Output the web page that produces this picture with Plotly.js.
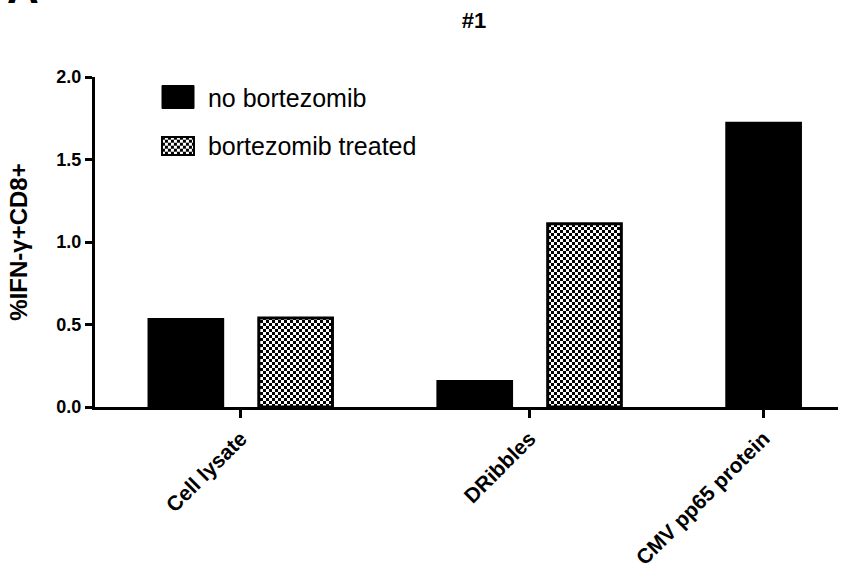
<!DOCTYPE html>
<html><head><meta charset="utf-8">
<script src="https://cdn.plot.ly/plotly-3.0.1.min.js"></script>
<style>html,body{margin:0;padding:0;background:#fff}#chart{width:843px;height:568px}</style>
</head><body><div id="chart"></div>
<script>
const categories = ['Cell lysate', 'DRibbles', 'CMV pp65 protein'];
const seriesNames = ['no bortezomib', 'bortezomib treated'];
const noBortezomib = [0.53, 0.155, 1.72];
const bortezomibTreated = [0.54, 1.11, null];
const yTickVals = [0, 0.5, 1.0, 1.5, 2.0];
const yTickText = ['0.0', '0.5', '1.0', '1.5', '2.0'];

const FONT = 'Liberation Sans, Arial, sans-serif';
const barWidth = 0.255;
const offsets = [-0.315, 0.065];
const idx = categories.map((_, i) => i);
const series = [noBortezomib, bortezomibTreated];

const tickPos = idx.map(i => {
  const c = series.map((s, k) => s[i] == null ? null : i + offsets[k] + barWidth / 2).filter(v => v != null);
  return c.reduce((a, b) => a + b, 0) / c.length;
});

const data = [
  {type: 'bar', name: seriesNames[0], x: idx, y: noBortezomib, width: barWidth, offset: offsets[0],
   marker: {color: '#000', line: {color: '#000', width: 3}}, legend: 'legend', hoverinfo: 'skip'},
  {type: 'bar', name: seriesNames[1], x: idx, y: bortezomibTreated, width: barWidth, offset: offsets[1],
   marker: {color: '#fff', line: {color: '#000', width: 3},
            pattern: {shape: '+', fgcolor: '#000', bgcolor: '#fff', size: 6, solidity: 0.5}},
   legend: 'legend2', hoverinfo: 'skip'}
];

const tickFont = {family: FONT, size: 18, color: '#000', weight: 'bold'};
const xTickFont = {family: FONT, size: 21, color: '#000', weight: 'bold'};
const legendBase = {xanchor: 'left', yanchor: 'middle', bgcolor: 'rgba(0,0,0,0)', itemwidth: 40,
                    font: {family: FONT, size: 25, color: '#000'}};
const layout = {
  width: 843, height: 568,
  margin: {l: 95, r: 5, t: 77, b: 161},
  paper_bgcolor: '#fff', plot_bgcolor: '#fff',
  barmode: 'overlay',
  showlegend: true,
  title: {text: '#1', x: 474 / 843, xanchor: 'center', xref: 'container', y: 1 - 20 / 568, yanchor: 'middle',
          font: {family: FONT, size: 22, color: '#000', weight: 'bold'}},
  xaxis: {range: [-0.502, 2.07], tickvals: tickPos, ticktext: categories, tickangle: -45,
          ticks: 'outside', ticklen: 8, tickwidth: 3, tickcolor: '#000',
          showline: true, linewidth: 3, linecolor: '#000', showgrid: false, zeroline: false,
          tickfont: xTickFont, fixedrange: true},
  yaxis: {range: [0, 2], tickvals: yTickVals, ticktext: yTickText,
          ticks: 'outside', ticklen: 7, tickwidth: 3, tickcolor: '#000',
          showline: true, linewidth: 3, linecolor: '#000', showgrid: false, zeroline: false,
          tickfont: tickFont, fixedrange: true,
          title: {text: '%IFN-γ+CD8+', standoff: 22, font: {family: FONT, size: 24, color: '#000', weight: 'bold'}}},
  legend: Object.assign({x: 0.0847, y: 0.939}, legendBase),
  legend2: Object.assign({x: 0.0847, y: 0.791}, legendBase),
  annotations: [{text: 'A', xref: 'paper', yref: 'paper', x: -0.097, y: 1.19, xanchor: 'center', yanchor: 'bottom',
                 showarrow: false, font: {family: FONT, size: 44, color: '#000', weight: 'bold'}}]
};

const gd = document.getElementById('chart');
function restyleDom() {
  const NS = 'http://www.w3.org/2000/svg';
  gd.querySelectorAll('pattern').forEach(p => {
    if (p.getAttribute('data-checker')) return;
    const s = 6;
    p.setAttribute('data-checker', '1');
    p.setAttribute('width', s); p.setAttribute('height', s);
    p.removeAttribute('patternTransform');
    while (p.firstChild) p.removeChild(p.firstChild);
    [[0, 0, s, s, '#fff'], [0, 0, s / 2, s / 2, '#000'], [s / 2, s / 2, s / 2, s / 2, '#000']].forEach(([x, y, w, h, c]) => {
      const r = document.createElementNS(NS, 'rect');
      r.setAttribute('x', x); r.setAttribute('y', y); r.setAttribute('width', w); r.setAttribute('height', h);
      r.setAttribute('fill', c); r.setAttribute('stroke', 'none');
      p.appendChild(r);
    });
  });
  const svgRect = gd.querySelector('svg.main-svg').getBoundingClientRect();
  gd.querySelectorAll('.legendpoints path').forEach(path => {
    if (path.getAttribute('data-done')) return;
    const pr = path.getBoundingClientRect();
    const cx = pr.left + pr.width / 2 - svgRect.left;
    const cy = pr.top + pr.height / 2 - svgRect.top;
    const first = cy < 121;
    const top = first ? 85.5 : 137, bot = first ? 108.5 : 155;
    const x0 = 162 - cx, x1 = 194 - cx;
    path.setAttribute('d', `M${x0},${top - cy}H${x1}V${bot - cy}H${x0}Z`);
    path.style.strokeWidth = first ? '1px' : '2px';
    path.style.stroke = '#000';
    path.setAttribute('data-done', '1');
  });
}
Plotly.newPlot(gd, data, layout, {staticPlot: true, displayModeBar: false}).then(() => {
  restyleDom();
  setTimeout(restyleDom, 50);
  setTimeout(restyleDom, 300);
});
</script>
</body></html>
